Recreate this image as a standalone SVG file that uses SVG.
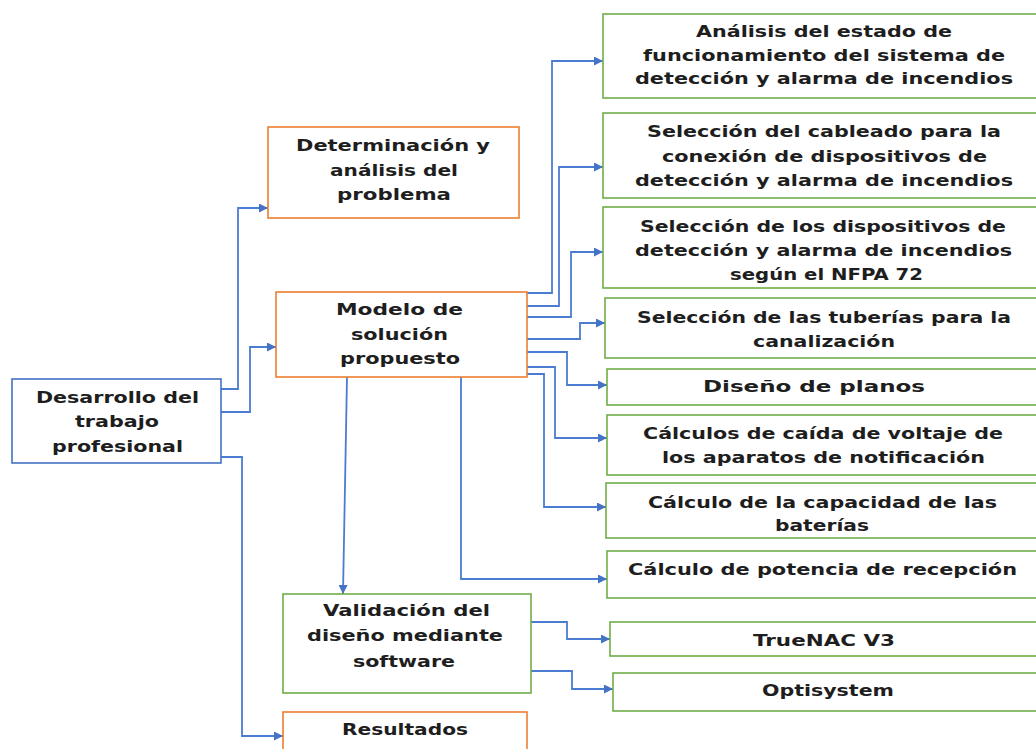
<svg xmlns="http://www.w3.org/2000/svg" width="1036" height="749" viewBox="0 0 1036 749">
<style>
  .bg{fill:#ffffff}
  .orange{fill:#ffffff;stroke:#ED7D31;stroke-width:1.6}
  .green{fill:#ffffff;stroke:#70AD47;stroke-width:1.6}
  .blue{fill:#ffffff;stroke:#4472C4;stroke-width:1.6}
  .t{font-family:"DejaVu Sans","Liberation Sans",sans-serif;font-weight:700;font-size:16px;fill:#1e1e1e}
  .c{fill:none;stroke:#4A7DD1;stroke-width:1.8}
</style>
<defs>
  <marker id="arr" viewBox="0 0 10 10" refX="10" refY="5" markerWidth="11" markerHeight="9" markerUnits="userSpaceOnUse" orient="auto">
    <path d="M0,0 L10,5 L0,10 z" fill="#4472C4"/>
  </marker>
</defs>
<rect class="bg" x="0" y="0" width="1036" height="749"/>

<g id="connectors">
  <polyline class="c" points="221,389 238,389 238,208 268,208" marker-end="url(#arr)"/>
  <polyline class="c" points="221,412 250,412 250,347 276,347" marker-end="url(#arr)"/>
  <polyline class="c" points="221,457 242,457 242,736 283,736" marker-end="url(#arr)"/>
  <polyline class="c" points="527,293 552,293 552,61 603,61" marker-end="url(#arr)"/>
  <polyline class="c" points="527,306 559,306 559,167 603,167" marker-end="url(#arr)"/>
  <polyline class="c" points="527,317 571,317 571,252 603,252" marker-end="url(#arr)"/>
  <polyline class="c" points="527,339 580,339 580,323 605,323" marker-end="url(#arr)"/>
  <polyline class="c" points="527,352 567,352 567,385 607,385" marker-end="url(#arr)"/>
  <polyline class="c" points="527,367 555,367 555,438 607,438" marker-end="url(#arr)"/>
  <polyline class="c" points="527,374 544,374 544,507 606,507" marker-end="url(#arr)"/>
  <polyline class="c" points="461,377 461,579 607,579" marker-end="url(#arr)"/>
  <polyline class="c" points="347,377 343,594" marker-end="url(#arr)"/>
  <polyline class="c" points="531,622 567,622 567,639 610,639" marker-end="url(#arr)"/>
  <polyline class="c" points="531,671 572,671 572,689 613,689" marker-end="url(#arr)"/>
</g>

<g id="desarrollo">
  <rect class="blue" x="12" y="379" width="209" height="84"/>
  <text class="t" x="36" y="403" textLength="163" lengthAdjust="spacingAndGlyphs">Desarrollo del</text>
  <text class="t" x="75" y="427" textLength="84" lengthAdjust="spacingAndGlyphs">trabajo</text>
  <text class="t" x="52" y="452" textLength="131" lengthAdjust="spacingAndGlyphs">profesional</text>
</g>

<g id="determinacion">
  <rect class="orange" x="268" y="127" width="251" height="91"/>
  <text class="t" x="296" y="151" textLength="194" lengthAdjust="spacingAndGlyphs">Determinación y</text>
  <text class="t" x="330" y="176" textLength="128" lengthAdjust="spacingAndGlyphs">análisis del</text>
  <text class="t" x="337" y="200" textLength="114" lengthAdjust="spacingAndGlyphs">problema</text>
</g>

<g id="modelo">
  <rect class="orange" x="276" y="292" width="251" height="85"/>
  <text class="t" x="336" y="315" textLength="127" lengthAdjust="spacingAndGlyphs">Modelo de</text>
  <text class="t" x="351" y="340" textLength="97" lengthAdjust="spacingAndGlyphs">solución</text>
  <text class="t" x="340" y="364" textLength="120" lengthAdjust="spacingAndGlyphs">propuesto</text>
</g>

<g id="validacion">
  <rect class="green" x="283" y="594" width="248" height="99"/>
  <text class="t" x="323" y="616" textLength="167" lengthAdjust="spacingAndGlyphs">Validación del</text>
  <text class="t" x="307" y="641" textLength="196" lengthAdjust="spacingAndGlyphs">diseño mediante</text>
  <text class="t" x="353" y="667" textLength="102" lengthAdjust="spacingAndGlyphs">software</text>
</g>

<g id="resultados">
  <rect class="orange" x="283" y="712" width="244" height="50"/>
  <text class="t" x="342" y="735" textLength="126" lengthAdjust="spacingAndGlyphs">Resultados</text>
</g>

<g id="analisis">
  <rect class="green" x="603" y="14" width="440" height="84"/>
  <text class="t" x="696" y="37" textLength="256" lengthAdjust="spacingAndGlyphs">Análisis del estado de</text>
  <text class="t" x="643" y="61" textLength="362" lengthAdjust="spacingAndGlyphs">funcionamiento del sistema de</text>
  <text class="t" x="635" y="84" textLength="378" lengthAdjust="spacingAndGlyphs">detección y alarma de incendios</text>
</g>

<g id="cableado">
  <rect class="green" x="603" y="113" width="440" height="85"/>
  <text class="t" x="647" y="137" textLength="354" lengthAdjust="spacingAndGlyphs">Selección del cableado para la</text>
  <text class="t" x="662" y="162" textLength="325" lengthAdjust="spacingAndGlyphs">conexión de dispositivos de</text>
  <text class="t" x="635" y="186" textLength="378" lengthAdjust="spacingAndGlyphs">detección y alarma de incendios</text>
</g>

<g id="dispositivos">
  <rect class="green" x="603" y="207" width="440" height="81"/>
  <text class="t" x="640" y="232" textLength="366" lengthAdjust="spacingAndGlyphs">Selección de los dispositivos de</text>
  <text class="t" x="635" y="256" textLength="377" lengthAdjust="spacingAndGlyphs">detección y alarma de incendios</text>
  <text class="t" x="730" y="280" textLength="193" lengthAdjust="spacingAndGlyphs">según el NFPA 72</text>
</g>

<g id="tuberias">
  <rect class="green" x="605" y="298" width="440" height="60"/>
  <text class="t" x="637" y="323" textLength="374" lengthAdjust="spacingAndGlyphs">Selección de las tuberías para la</text>
  <text class="t" x="753" y="347" textLength="142" lengthAdjust="spacingAndGlyphs">canalización</text>
</g>

<g id="planos">
  <rect class="green" x="607" y="369" width="440" height="36"/>
  <text class="t" x="703" y="392" textLength="222" lengthAdjust="spacingAndGlyphs">Diseño de planos</text>
</g>

<g id="voltaje">
  <rect class="green" x="607" y="415" width="440" height="60"/>
  <text class="t" x="643" y="439" textLength="360" lengthAdjust="spacingAndGlyphs">Cálculos de caída de voltaje de</text>
  <text class="t" x="662" y="463" textLength="323" lengthAdjust="spacingAndGlyphs">los aparatos de notificación</text>
</g>

<g id="baterias">
  <rect class="green" x="606" y="483" width="440" height="55"/>
  <text class="t" x="648" y="508" textLength="349" lengthAdjust="spacingAndGlyphs">Cálculo de la capacidad de las</text>
  <text class="t" x="775" y="531" textLength="94" lengthAdjust="spacingAndGlyphs">baterías</text>
</g>

<g id="potencia">
  <rect class="green" x="607" y="551" width="440" height="47"/>
  <text class="t" x="628" y="575" textLength="389" lengthAdjust="spacingAndGlyphs">Cálculo de potencia de recepción</text>
</g>

<g id="truenac">
  <rect class="green" x="610" y="622" width="440" height="34"/>
  <text class="t" x="753" y="646" textLength="142" lengthAdjust="spacingAndGlyphs">TrueNAC V3</text>
</g>

<g id="optisystem">
  <rect class="green" x="613" y="673" width="440" height="38"/>
  <text class="t" x="762" y="696" textLength="132" lengthAdjust="spacingAndGlyphs">Optisystem</text>
</g>
</svg>
